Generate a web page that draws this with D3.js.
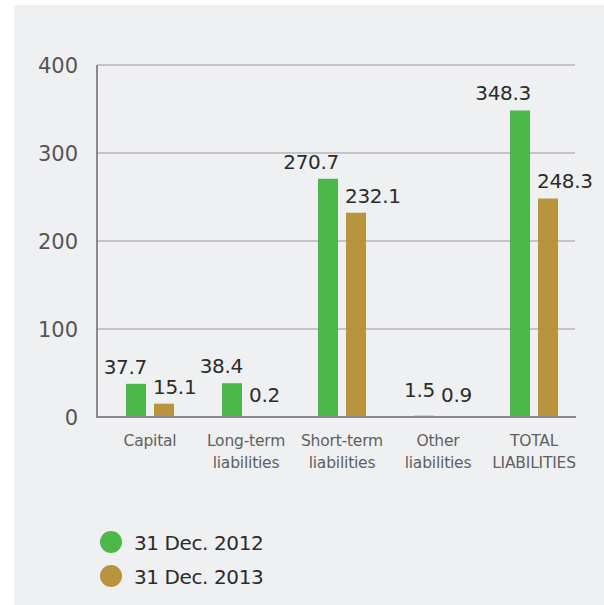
<!DOCTYPE html>
<html>
<head>
<meta charset="utf-8">
<script src="https://cdn.jsdelivr.net/npm/d3@7"></script>
<style>
  html, body { margin: 0; padding: 0; background: #ffffff; }
  svg { display: block; }
  text { font-family: "DejaVu Sans", sans-serif; }
</style>
</head>
<body>
<script>
// Liabilities by category, EUR million
const categories = [
  ["Capital"],
  ["Long-term", "liabilities"],
  ["Short-term", "liabilities"],
  ["Other", "liabilities"],
  ["TOTAL", "LIABILITIES"]
];
const seriesNames = ["31 Dec. 2012", "31 Dec. 2013"];
const values2012 = [37.7, 38.4, 270.7, 1.5, 348.3];
const values2013 = [15.1, 0.2, 232.1, 0.9, 248.3];
const yTicks = [0, 100, 200, 300, 400];
const colors = ["#4cb84a", "#b9943f"];

const W = 604, H = 605;
const svg = d3.select("body").append("svg").attr("width", W).attr("height", H);

// panel background
svg.append("rect").attr("x", 14).attr("y", 5).attr("width", W - 14).attr("height", H - 5)
  .attr("fill", "#eff0f2");

const x0 = 97, x1 = 576, yBase = 417, yTop = 65;
const keys = categories.map((c, i) => i);
const x = d3.scaleBand().domain(keys).range([102, 582]).padding(0);
const y = d3.scaleLinear().domain([0, 400]).range([yBase, yTop]);

const table = keys.map(i => ({ i, vals: [values2012[i], values2013[i]] }));

// gridlines
svg.append("g").selectAll("line").data(yTicks.filter(t => t > 0)).join("line")
  .attr("x1", x0).attr("x2", 575)
  .attr("y1", d => y(d)).attr("y2", d => y(d))
  .attr("stroke", "#9a9a9c").attr("stroke-width", 1);

// y tick labels
const yAxis = d3.axisLeft(y).tickValues(yTicks).tickSize(0).tickPadding(19);
const gy = svg.append("g").attr("transform", `translate(${x0},0)`).call(yAxis);
gy.select(".domain").remove();
gy.selectAll("text")
  .attr("fill", "#555")
  .style("font-size", "21px")
  .attr("dy", "0.36em");

// bars
const barW = 20, gap = 8;
const groups = svg.append("g").selectAll("g").data(table).join("g")
  .attr("transform", d => `translate(${x(d.i) + x.bandwidth() / 2},0)`);

groups.selectAll("rect").data(d => d.vals).join("rect")
  .attr("x", (v, j) => j === 0 ? -barW - gap / 2 : gap / 2)
  .attr("width", barW)
  .attr("y", v => y(v))
  .attr("height", v => yBase - y(v))
  .attr("fill", (v, j) => colors[j]);

// value labels: first series right-aligned to its bar, second left-aligned
groups.selectAll("text.val").data(d => d.vals).join("text")
  .attr("class", "val")
  .attr("x", (v, j) => j === 0 ? -gap / 2 + 1 : gap / 2 - 1)
  .attr("y", (v, j) => Math.min(y(v) - 10, yBase - (j === 0 ? 20 : 15)))
  .attr("text-anchor", (v, j) => j === 0 ? "end" : "start")
  .attr("fill", "#2b2b2b")
  .style("font-size", "20px")
  .style("letter-spacing", "-0.3px")
  .text(v => v.toFixed(1));

// axes lines
svg.append("line").attr("x1", x0).attr("x2", x0).attr("y1", yTop).attr("y2", yBase + 1)
  .attr("stroke", "#8a8a8c").attr("stroke-width", 2);
svg.append("line").attr("x1", x0 - 1).attr("x2", x1).attr("y1", yBase).attr("y2", yBase)
  .attr("stroke", "#8a8a8c").attr("stroke-width", 2);

// category labels
const xl = svg.append("g").selectAll("text").data(table).join("text")
  .attr("x", d => x(d.i) + x.bandwidth() / 2)
  .attr("y", 446)
  .attr("text-anchor", "middle")
  .attr("fill", "#606060")
  .style("font-size", "15.5px")
  .style("letter-spacing", "-0.2px");
xl.selectAll("tspan").data(d => categories[d.i]).join("tspan")
  .attr("x", function () { return this.parentNode.getAttribute("x"); })
  .attr("dy", (s, k) => k === 0 ? 0 : 22)
  .text(s => s);

// legend
const lg = svg.append("g").selectAll("g").data(seriesNames).join("g")
  .attr("transform", (d, i) => `translate(111,${542 + i * 34})`);
lg.append("circle").attr("r", 11).attr("fill", (d, i) => colors[i]);
lg.append("text").attr("x", 23).attr("y", 7.5)
  .attr("fill", "#2b2b2b").style("font-size", "20px")
  .style("letter-spacing", "-0.4px").text(d => d);
</script>
</body>
</html>
